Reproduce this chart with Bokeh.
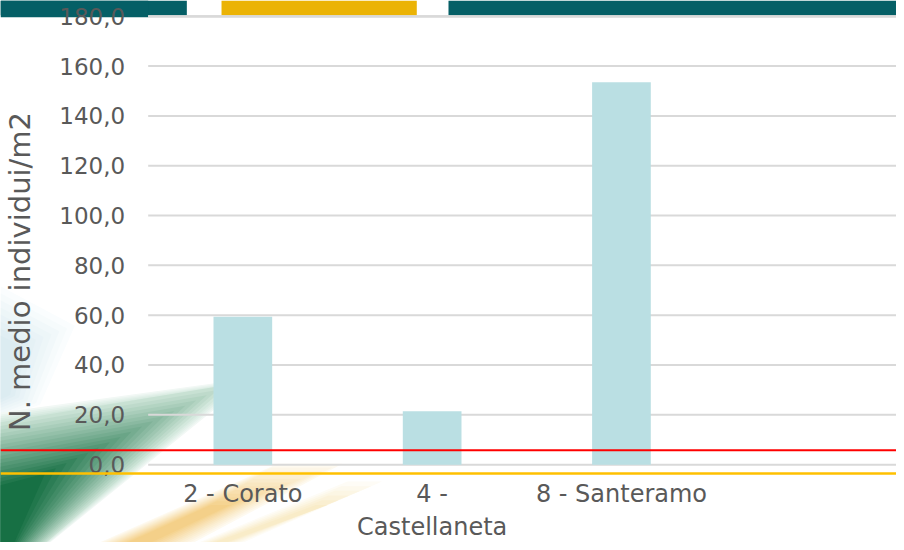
from bokeh.plotting import figure
from bokeh.models import Range1d, FixedTicker, Span, ColumnDataSource
from bokeh.embed import file_html
from bokeh.resources import INLINE

# ---- data ----
categories = ["2 - Corato", "4 -\nCastellaneta", "8 - Santeramo"]
values = [59.4, 21.4, 153.5]
y_ticks = [0, 20, 40, 60, 80, 100, 120, 140, 160, 180]
y_tick_labels = ["0,0", "20,0", "40,0", "60,0", "80,0", "100,0", "120,0", "140,0", "160,0", "180,0"]
threshold = 5.8
y_label = "N. medio individui/m2"

# ---- geometry (reference pixel -> data helpers, for decoration/ranges) ----
W, H = 896, 542
REF_W, REF_H = 904, 550


def dx(px):
    return (px - 149) / 191.0


def dy(py):
    return (471 - py) / 2.528


X0, X1 = dx(0), dx(REF_W)
Y0, Y1 = dy(REF_H), dy(0)

TXT = "#595959"
FONT = "DejaVu Sans"

p = figure(width=W, height=H, output_backend="svg", toolbar_location=None,
           x_range=Range1d(X0, X1), y_range=Range1d(Y0, Y1),
           min_border=0, min_border_left=0, min_border_right=0,
           min_border_top=0, min_border_bottom=0)
p.outline_line_color = None
p.background_fill_color = "white"
p.border_fill_color = "white"
p.xgrid.visible = False
p.ygrid.visible = False


# ---- background decoration (slide artwork, soft layered shapes) ----
def hexmix(c0, c1, t):
    a = [int(c0[i:i + 2], 16) for i in (1, 3, 5)]
    b = [int(c1[i:i + 2], 16) for i in (1, 3, 5)]
    return "#" + "".join("%02x" % int(round(a[k] + (b[k] - a[k]) * t)) for k in range(3))


def soft_shape(outer, inner, c_out, c_in, n=14, alpha=1.0):
    for k in range(n):
        t = k / (n - 1)
        pts = [(o[0] + (i[0] - o[0]) * t, o[1] + (i[1] - o[1]) * t) for o, i in zip(outer, inner)]
        p.patch([dx(a) for a, b in pts], [dy(b) for a, b in pts],
                fill_color=hexmix(c_out, c_in, t), fill_alpha=alpha, line_color=None)


# faint cyan haze
soft_shape([(0, 290), (75, 330), (40, 410), (0, 425)],
           [(0, 340), (20, 350), (10, 400), (0, 405)], "#fafdfe", "#dcecf1", n=8)
# green brush stroke: light fringe then stronger body
soft_shape([(0, 418), (255, 383), (50, 550), (0, 550)],
           [(0, 426), (235, 390), (46, 550), (0, 550)], "#f2f8f5", "#d3e8dd", n=5)
soft_shape([(0, 428), (230, 390), (46, 550), (0, 550)],
           [(0, 492), (45, 480), (14, 550), (0, 550)], "#c8e1d3", "#177044", n=18)
# yellow brush stroke
soft_shape([(100, 550), (195, 550), (345, 470), (280, 470)],
           [(128, 550), (152, 550), (232, 512), (212, 512)], "#fefaf0", "#f4d089", n=12)
soft_shape([(200, 550), (245, 550), (385, 488), (350, 488)],
           [(215, 550), (228, 550), (330, 512), (318, 512)], "#fefcf6", "#f9ecc8", n=6)


# banner
def box(x0, x1, y0, y1, color):
    p.quad(left=[dx(x0)], right=[dx(x1)], top=[dy(y0)], bottom=[dy(y1)],
           fill_color=color, line_color=None)


box(149, 904, 15, 17.5, "#dadada")
box(0, 188, 0, 15, "#055f66")
box(0, 149, 0, 17, "#055f66")
box(223, 420, 0, 15, "#ebb305")
box(452, 904, 0, 15, "#055f66")

# ---- gridlines ----
p.segment(x0=[0] * len(y_ticks), x1=[X1] * len(y_ticks), y0=y_ticks, y1=y_ticks,
          line_color="#d9d9d9", line_width=2)

# ---- bars ----
xs = [i + 0.5 for i in range(len(categories))]
src = ColumnDataSource(dict(x=xs, top=values))
p.vbar(x="x", top="top", bottom=0, width=0.31, source=src,
       fill_color="#badfe3", line_color=None)

# ---- reference lines ----
p.add_layout(Span(location=threshold, dimension="width", line_color="#ff0000", line_width=2))
p.add_layout(Span(location=-3.6, dimension="width", line_color="#ffc000", line_width=2.5))

# ---- axes ----
ya = p.yaxis[0]
ya.fixed_location = 0
ya.ticker = FixedTicker(ticks=y_ticks)
ya.major_label_overrides = {t: l for t, l in zip(y_ticks, y_tick_labels)}
ya.axis_line_color = None
ya.major_tick_line_color = None
ya.minor_tick_line_color = None
ya.major_tick_out = 0
ya.major_tick_in = 0
ya.major_label_standoff = 23
ya.major_label_text_font = FONT
ya.major_label_text_font_size = "23px"
ya.major_label_text_color = TXT
ya.axis_label = y_label
ya.axis_label_text_font = FONT
ya.axis_label_text_font_size = "29px"
ya.axis_label_text_font_style = "normal"
ya.axis_label_text_color = TXT
ya.axis_label_standoff = 20

xa = p.xaxis[0]
xa.fixed_location = 0
xa.ticker = FixedTicker(ticks=xs)
xa.major_label_overrides = {x: c for x, c in zip(xs, categories)}
xa.axis_line_color = None
xa.major_tick_line_color = None
xa.minor_tick_line_color = None
xa.major_tick_out = 0
xa.major_tick_in = 0
xa.major_label_standoff = 15
xa.major_label_text_font = FONT
xa.major_label_text_font_size = "24px"
xa.major_label_text_color = TXT
xa.major_label_text_line_height = 1.2

open("out.html", "w").write(file_html(p, INLINE))
